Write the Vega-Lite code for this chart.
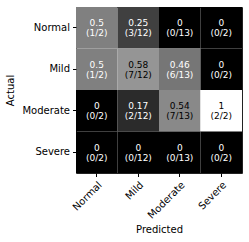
{
  "$schema": "https://vega.github.io/schema/vega-lite/v6.json",
  "autosize": {"type": "none"},
  "width": 166,
  "height": 166,
  "padding": {"left": 76, "top": 7, "right": 7, "bottom": 69},
  "data": {"values": [
    {"actual": "Normal", "predicted": "Normal", "v": 0.5, "vl": "0.5", "fr": "(1/2)"},
    {"actual": "Normal", "predicted": "Mild", "v": 0.25, "vl": "0.25", "fr": "(3/12)"},
    {"actual": "Normal", "predicted": "Moderate", "v": 0, "vl": "0", "fr": "(0/13)"},
    {"actual": "Normal", "predicted": "Severe", "v": 0, "vl": "0", "fr": "(0/2)"},
    {"actual": "Mild", "predicted": "Normal", "v": 0.5, "vl": "0.5", "fr": "(1/2)"},
    {"actual": "Mild", "predicted": "Mild", "v": 0.5833, "vl": "0.58", "fr": "(7/12)"},
    {"actual": "Mild", "predicted": "Moderate", "v": 0.4615, "vl": "0.46", "fr": "(6/13)"},
    {"actual": "Mild", "predicted": "Severe", "v": 0, "vl": "0", "fr": "(0/2)"},
    {"actual": "Moderate", "predicted": "Normal", "v": 0, "vl": "0", "fr": "(0/2)"},
    {"actual": "Moderate", "predicted": "Mild", "v": 0.1667, "vl": "0.17", "fr": "(2/12)"},
    {"actual": "Moderate", "predicted": "Moderate", "v": 0.5385, "vl": "0.54", "fr": "(7/13)"},
    {"actual": "Moderate", "predicted": "Severe", "v": 1, "vl": "1", "fr": "(2/2)"},
    {"actual": "Severe", "predicted": "Normal", "v": 0, "vl": "0", "fr": "(0/2)"},
    {"actual": "Severe", "predicted": "Mild", "v": 0, "vl": "0", "fr": "(0/12)"},
    {"actual": "Severe", "predicted": "Moderate", "v": 0, "vl": "0", "fr": "(0/13)"},
    {"actual": "Severe", "predicted": "Severe", "v": 0, "vl": "0", "fr": "(0/2)"}
  ]},
  "encoding": {
    "x": {"field": "predicted", "type": "nominal", "sort": ["Normal", "Mild", "Moderate", "Severe"],
          "scale": {"paddingInner": 0, "paddingOuter": 0},
          "axis": {"title": "Predicted", "labelAngle": -45, "labelAlign": "right", "labelBaseline": "top", "domain": false, "grid": false, "titlePadding": 4}},
    "y": {"field": "actual", "type": "nominal", "sort": ["Normal", "Mild", "Moderate", "Severe"],
          "scale": {"paddingInner": 0, "paddingOuter": 0},
          "axis": {"title": "Actual", "domain": false, "grid": false, "titlePadding": 6}}
  },
  "layer": [
    {"mark": {"type": "rect"},
     "encoding": {"color": {"field": "v", "type": "quantitative", "scale": {"domain": [0, 1], "range": ["black", "white"], "interpolate": "rgb"}, "legend": null}}},
    {"mark": {"type": "text", "dy": -4.5, "fontSize": 9, "font": "DejaVu Sans"},
     "encoding": {"text": {"field": "vl"}, "color": {"condition": {"test": "datum.v > 0.5", "value": "black"}, "value": "white"}}},
    {"mark": {"type": "text", "dy": 5.5, "fontSize": 9, "font": "DejaVu Sans"},
     "encoding": {"text": {"field": "fr"}, "color": {"condition": {"test": "datum.v > 0.5", "value": "black"}, "value": "white"}}}
  ],
  "config": {
    "view": {"stroke": "#222", "strokeWidth": 1},
    "font": "DejaVu Sans",
    "axis": {"labelFont": "DejaVu Sans", "titleFont": "DejaVu Sans", "labelFontSize": 10, "titleFontSize": 10, "titleFontWeight": "normal", "labelColor": "black", "titleColor": "black", "tickColor": "black", "tickSize": 3.5, "labelPadding": 3, "labelOverlap": false}
  }
}
